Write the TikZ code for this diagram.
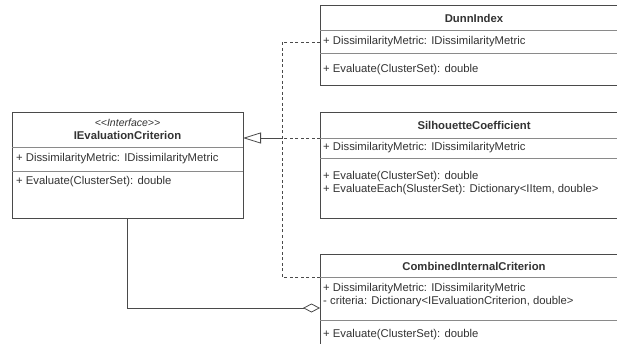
\documentclass[tikz,border=0pt]{standalone}
\usepackage{fontspec}
\setmainfont{Liberation Sans}
\usetikzlibrary{arrows.meta}
\definecolor{txt}{HTML}{333333}
\definecolor{edge}{HTML}{4A4A4A}
\definecolor{divc}{HTML}{8A8A8A}
\tikzset{
  classbox/.style={draw=edge, line width=0.9pt, fill=white, anchor=north west, inner sep=0pt, outer sep=0pt},
  divider/.style={draw=divc, line width=0.8pt},
  member/.style={anchor=west, inner sep=0pt, text=txt, font=\fontsize{11.3}{13}\selectfont},
  ctitle/.style={anchor=center, inner sep=0pt, text=txt, font=\fontsize{11.3}{13}\selectfont\bfseries},
  stereo/.style={anchor=center, inner sep=0pt, text=txt, font=\fontsize{10.5}{12}\selectfont\itshape},
  realize/.style={draw=edge, line width=0.8pt, dash pattern=on 3pt off 2.5pt},
  conn/.style={draw=edge, line width=0.8pt}
}
\begin{document}
\begin{tikzpicture}[x=1pt,y=-1pt]
\useasboundingbox (0,0) rectangle (617,344);
\clip (0,0) rectangle (617,344);
\fill[white] (0,0) rectangle (617,344);

% IEvaluationCriterion
\node[classbox, minimum width=231pt, minimum height=106pt] (ie) at (12,112) {};
\draw[divider] (12,147) -- (243,147);
\draw[divider] (12,171) -- (243,171);
\node[stereo] (ieS) at (127.5,123) {{<}{<}Interface{>}{>}};
\node[ctitle] (ieT) at (127.5,135) {IEvaluationCriterion};
\node[member] (ieA) at (16,159) {+ DissimilarityMetric: IDissimilarityMetric};
\node[member] (ieM) at (16,182) {+ Evaluate(ClusterSet): double};

% DunnIndex
\node[classbox, minimum width=308pt, minimum height=80pt] (dunn) at (320,5) {};
\draw[divider] (320,30) -- (628,30);
\draw[divider] (320,53) -- (628,53);
\node[ctitle] (dunnT) at (474,18) {DunnIndex};
\node[member] (dunnA) at (323,42) {+ DissimilarityMetric: IDissimilarityMetric};
\node[member] (dunnM) at (323,70) {+ Evaluate(ClusterSet): double};

% SilhouetteCoefficient
\node[classbox, minimum width=308pt, minimum height=106pt] (sil) at (320,112) {};
\draw[divider] (320,138) -- (628,138);
\draw[divider] (320,158) -- (628,158);
\node[ctitle] (silT) at (474,125) {SilhouetteCoefficient};
\node[member] (silA) at (323,148) {+ DissimilarityMetric: IDissimilarityMetric};
\node[member] (silM1) at (323,177) {+ Evaluate(ClusterSet): double};
\node[member] (silM2) at (323,190) {+ EvaluateEach(SlusterSet): Dictionary<IItem, double>};

% CombinedInternalCriterion
\node[classbox, minimum width=308pt, minimum height=110pt] (comb) at (320,254) {};
\draw[divider] (320,277) -- (628,277);
\draw[divider] (320,320) -- (628,320);
\node[ctitle] (combT) at (474,266) {CombinedInternalCriterion};
\node[member] (combA1) at (323,289) {+ DissimilarityMetric: IDissimilarityMetric};
\node[member] (combA2) at (323,302) {- criteria: Dictionary<IEvaluationCriterion, double>};
\node[member] (combM) at (323,335) {+ Evaluate(ClusterSet): double};

% connectors
\coordinate (junc) at (282,138);
\draw[realize] (dunn.west |- 0,42) -| (junc);
\draw[realize] (comb.west |- 0,277) -| (junc);
\draw[realize] (sil.west |- 0,138) -- (junc);
\draw[conn, -{Triangle[open, length=18pt, width=11pt, line width=0.8pt]}] (junc) -- (ie.east |- junc);
\draw[conn, {Diamond[open, length=17pt, width=9pt, line width=0.8pt]}-] (comb.west |- 0,308) -| (ie.south -| 127.5,0);
\end{tikzpicture}
\end{document}
